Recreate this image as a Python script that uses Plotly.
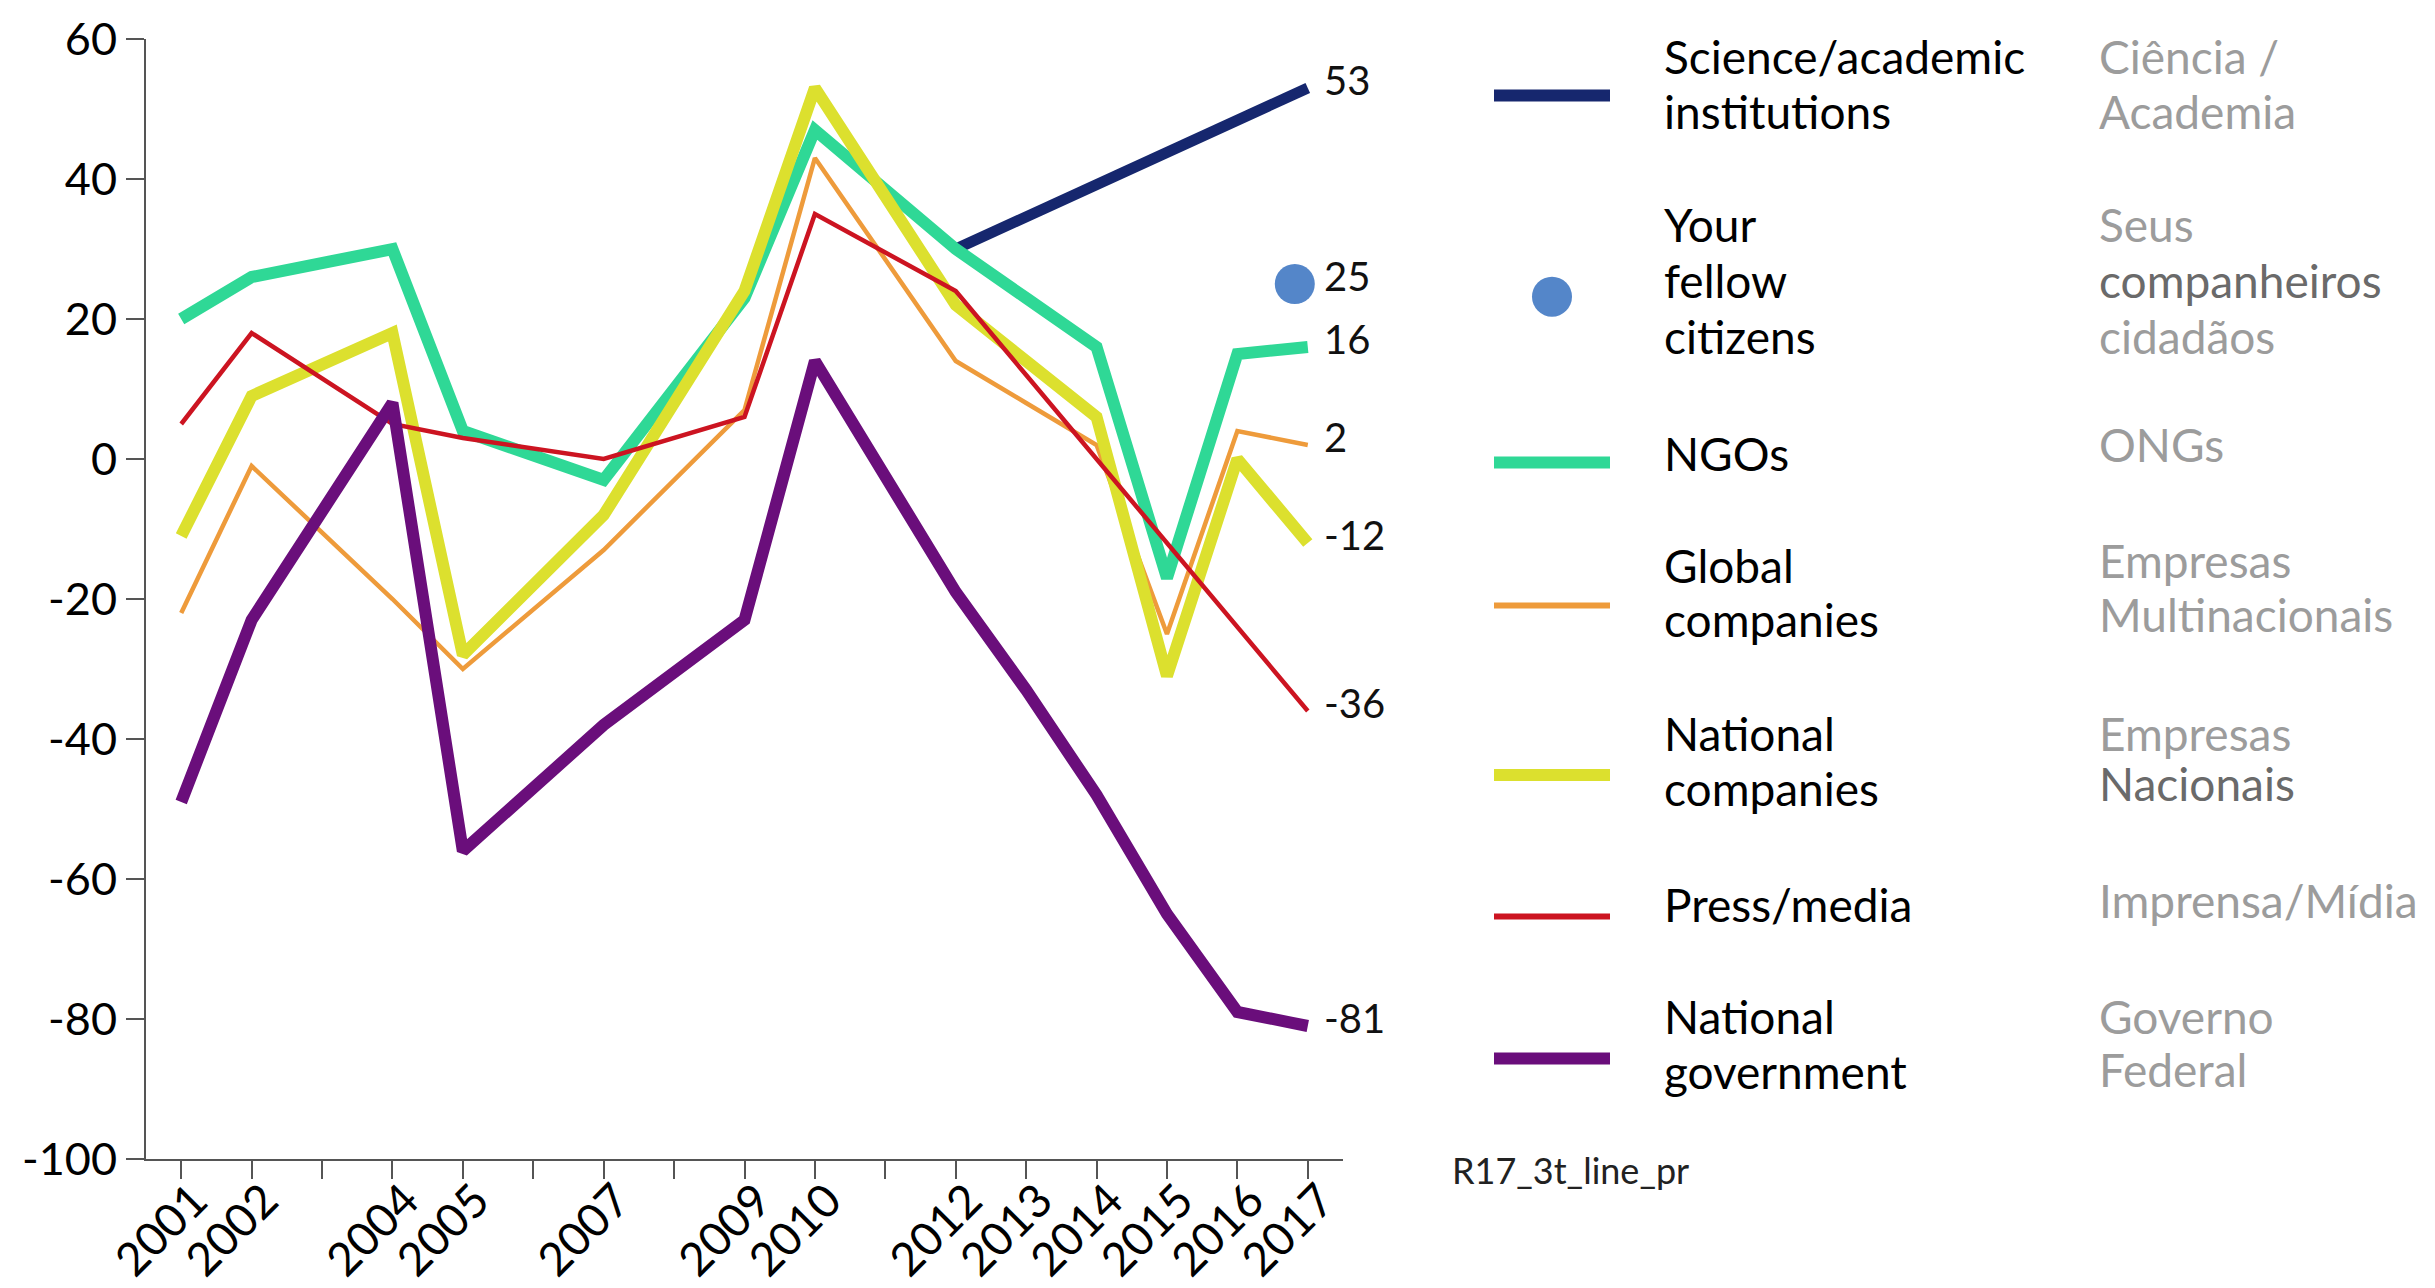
import plotly.graph_objects as go

# ---- data ---------------------------------------------------------------
years = [2001, 2002, 2004, 2005, 2007, 2009, 2010, 2012, 2013, 2014, 2015, 2016, 2017]
all_years = list(range(2001, 2018))

science_years = [2012, 2017]
science = [30, 53]

citizens_years = [2017]
citizens = [25]

ngos = [20, 26, 30, 4, -3, 23, 47, 30, 23, 16, -17, 15, 16]
global_cos = [-22, -1, -20, -30, -13, 7, 43, 14, 8, 2, -25, 4, 2]
national_cos = [-11, 9, 18, -28, -8, 24, 53, 22, 14, 6, -31, 0, -12]
press = [5, 18, 5, 3, 0, 6, 35, 24, 12, 0, -12, -24, -36]
government = [-49, -23, 8, -56, -38, -23, 14, -19, -33, -48, -65, -79, -81]

y_ticks = [60, 40, 20, 0, -20, -40, -60, -80, -100]

LIGHT = "#9c9c9c"
DARK = "#6a6a6a"
labels_en = [
    ["Science/academic", "institutions"],
    ["Your", "fellow", "citizens"],
    ["NGOs"],
    ["Global", "companies"],
    ["National", "companies"],
    ["Press/media"],
    ["National", "government"],
]
labels_pt = [
    [("Ciência /", LIGHT), ("Academia", LIGHT)],
    [("Seus", LIGHT), ("companheiros", DARK), ("cidadãos", LIGHT)],
    [("ONGs", LIGHT)],
    [("Empresas", LIGHT), ("Multinacionais", LIGHT)],
    [("Empresas", LIGHT), ("Nacionais", DARK)],
    [("Imprensa/Mídia", LIGHT)],
    [("Governo", LIGHT), ("Federal", LIGHT)],
]

# ---- styling --------------------------------------------------------------
NAVY = "#16276e"
GREEN = "#2fd896"
ORANGE = "#ee9b3b"
YELLOW = "#dce02e"
RED = "#cc1421"
PURPLE = "#6a0e7b"
BLUE = "#5486c9"
AXIS = "#555555"
FONT = "Lato"

W_PX, H_PX = 2435, 1288
L, T = 146, 39
PW, PH = 1197, 1120
X_RANGE = [2000.5, 2017.5]


def px_x(px):
    return (px - L) / PW


def px_y(py):
    return (T + PH - py) / PH


fig = go.Figure()

series = [
    ("Science/academic institutions", science_years, science, NAVY, 11),
    ("NGOs", years, ngos, GREEN, 12),
    ("Global companies", years, global_cos, ORANGE, 4.5),
    ("National companies", years, national_cos, YELLOW, 12),
    ("Press/media", years, press, RED, 4.5),
    ("National government", years, government, PURPLE, 12),
]
for name, xs, ys, color, width in series:
    fig.add_trace(go.Scatter(
        x=xs, y=ys, name=name, mode="lines",
        line=dict(color=color, width=width),
        cliponaxis=False, showlegend=False,
    ))

# the survey dot sits just left of the 2017 column, clear of its label
dot_offset = 13 / (PW / (X_RANGE[1] - X_RANGE[0]))
fig.add_trace(go.Scatter(
    x=citizens_years, y=citizens, name="Your fellow citizens", mode="markers",
    marker=dict(color=BLUE, size=40, line=dict(width=0)),
    xaxis="x2", cliponaxis=False, showlegend=False,
))

# end-of-line value labels
annotations = []
for xs, ys in [(science_years, science), (citizens_years, citizens),
               (years, ngos), (years, global_cos), (years, national_cos),
               (years, press), (years, government)]:
    annotations.append(dict(
        x=xs[-1], y=ys[-1], xref="x", yref="y", text=str(ys[-1]),
        showarrow=False, xanchor="left", yanchor="middle", xshift=14, yshift=8,
        font=dict(family=FONT, size=40, color="#111111"),
    ))

# legend block: swatches + English and Portuguese labels (per-line baselines)
swatch_y = [95.5, 296.7, 462.5, 605.6, 775, 916.4, 1058.5]
baselines_en = [[74.7, 129.5], [242.7, 298.8, 354.8], [471.8], [583, 637],
                [751.4, 806.2], [922.5], [1034.4, 1089.2]]
baselines_pt = [[74.7, 129.5], [242.7, 298.8, 354.8], [462.6], [578.8, 632.8],
                [751.4, 801.8], [918], [1034.4, 1087]]
swatch_style = [(NAVY, 12), None, (GREEN, 12), (ORANGE, 6), (YELLOW, 12), (RED, 6), (PURPLE, 12)]
LEG_FS = 46
BASE_TO_MID = 0.387 * LEG_FS

shapes = []
for i, style in enumerate(swatch_style):
    cy = swatch_y[i]
    if style is None:
        r = 20
        shapes.append(dict(
            type="circle", xref="paper", yref="paper",
            x0=px_x(1552 - r), x1=px_x(1552 + r),
            y0=px_y(cy + r), y1=px_y(cy - r),
            fillcolor=BLUE, line=dict(width=0),
        ))
    else:
        color, lw = style
        shapes.append(dict(
            type="line", xref="paper", yref="paper",
            x0=px_x(1494), x1=px_x(1610), y0=px_y(cy), y1=px_y(cy),
            line=dict(color=color, width=lw),
        ))
    for line, base in zip(labels_en[i], baselines_en[i]):
        annotations.append(dict(
            x=px_x(1662), y=px_y(base - BASE_TO_MID), xref="paper", yref="paper",
            text=line, showarrow=False, xanchor="left", yanchor="middle",
            font=dict(family=FONT, size=LEG_FS, color="#000000"),
        ))
    for (line, col), base in zip(labels_pt[i], baselines_pt[i]):
        annotations.append(dict(
            x=px_x(2097), y=px_y(base - BASE_TO_MID), xref="paper", yref="paper",
            text=line, showarrow=False, xanchor="left", yanchor="middle",
            font=dict(family=FONT, size=LEG_FS, color=col),
        ))

annotations.append(dict(
    x=px_x(1450), y=px_y(1170), xref="paper", yref="paper",
    text="R17_3t_line_pr", showarrow=False, xanchor="left", yanchor="middle",
    font=dict(family=FONT, size=36, color="#222222"),
))

fig.update_layout(
    width=W_PX, height=H_PX,
    margin=dict(l=L, r=W_PX - L - PW, t=T, b=H_PX - T - PH),
    paper_bgcolor="white", plot_bgcolor="white",
    font=dict(family=FONT, size=45, color="#000000"),
    showlegend=False,
    annotations=annotations,
    shapes=shapes,
    xaxis=dict(
        range=X_RANGE,
        tickmode="array", tickvals=all_years,
        ticktext=[str(y) if y in years else "" for y in all_years],
        tickangle=-45, automargin=False,
        ticklabelstandoff=-24, ticklabelshift=13,
        ticks="outside", ticklen=18, tickwidth=2, tickcolor=AXIS,
        showline=True, linecolor=AXIS, linewidth=2,
        showgrid=False, zeroline=False,
        tickfont=dict(family=FONT, size=46, color="#000000"),
    ),
    xaxis2=dict(
        overlaying="x", range=[X_RANGE[0] + dot_offset, X_RANGE[1] + dot_offset],
        visible=False, showgrid=False, zeroline=False, automargin=False,
    ),
    yaxis=dict(
        range=[-100, 60], automargin=False,
        tickmode="array", tickvals=y_ticks, ticktext=[str(v) for v in y_ticks],
        ticks="outside", ticklen=18, tickwidth=2, tickcolor=AXIS,
        showline=True, linecolor=AXIS, linewidth=2,
        showgrid=False, zeroline=False,
        tickfont=dict(family=FONT, size=45, color="#000000"),
    ),
)

fig.write_html("out.html")
